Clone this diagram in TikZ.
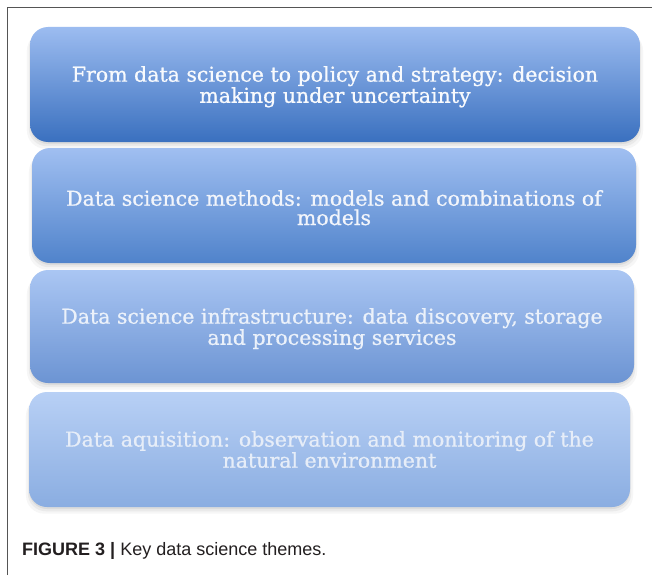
\documentclass[tikz,border=0pt]{standalone}
\usepackage{fontspec}
\setsansfont{Liberation Sans}
\newfontfamily\themefont{DejaVu Serif}[FakeBold=0.8]
\usetikzlibrary{shadows}

% layer colours: darkest layer on top, palest at the base
\definecolor{topA}{HTML}{9CBCF0}\definecolor{midA}{HTML}{6E9BDF}\definecolor{botA}{HTML}{3A70BF}
\definecolor{topB}{HTML}{A0BFF1}\definecolor{midB}{HTML}{7BA4E3}\definecolor{botB}{HTML}{5083CB}
\definecolor{topC}{HTML}{AAC6F3}\definecolor{midC}{HTML}{8DAFE7}\definecolor{botC}{HTML}{6C94D3}
\definecolor{topD}{HTML}{B8D0F5}\definecolor{midD}{HTML}{A4C0EE}\definecolor{botD}{HTML}{8AADE1}
\definecolor{textA}{HTML}{F8FAFD}
\definecolor{textB}{HTML}{F2F5FB}
\definecolor{textC}{HTML}{EBF1FA}
\definecolor{textD}{HTML}{E6EDF8}
\definecolor{framegray}{HTML}{555555}
\definecolor{captiongray}{HTML}{231F20}

% a taller first line pushes a two-line label slightly downwards
\newcommand{\lowerfirst}{\rule{0pt}{20pt}}

\tikzset{
  theme/.style={
    rectangle, rounded corners=18pt, inner sep=0pt,
    align=center,
    font=\themefont\fontsize{20.5}{19.3}\selectfont,
    general shadow={fill=black!60, opacity=0.10, shadow yshift=-2pt},
    general shadow={fill=black!60, opacity=0.08, shadow yshift=-4pt, shadow scale=1.004},
    general shadow={fill=black!60, opacity=0.06, shadow yshift=-6pt, shadow scale=1.01}
  },
  frameline/.style={draw=framegray, line width=1pt},
  captiontext/.style={anchor=base west, inner sep=0pt, text=captiongray,
    font=\sffamily\fontsize{18}{21}\selectfont}
}

\begin{document}
\begin{tikzpicture}[x=1pt,y=-1pt]
  \useasboundingbox (0,0) rectangle (652,575);
  \fill[white] (0,0) rectangle (652,575);

  % figure frame (top and left edges)
  \coordinate (frameBL) at (7,575);
  \coordinate (frameTL) at (7,8);
  \coordinate (frameTR) at (652,8);
  \draw[frameline] (frameBL) -- (frameTL) -- (frameTR);

  % the four stacked themes
  \node[theme, minimum width=610pt, minimum height=115pt,
        top color=topA, middle color=midA, bottom color=botA, text=textA]
    (policy) at (335,84.5)
    {\lowerfirst From data science to policy and strategy: decision\\making under uncertainty};

  \node[theme, minimum width=604pt, minimum height=115pt,
        top color=topB, middle color=midB, bottom color=botB, text=textB]
    (methods) at (334,205.5)
    {\lowerfirst Data science methods: models and combinations of\\models};

  \node[theme, minimum width=604pt, minimum height=113pt,
        top color=topC, middle color=midC, bottom color=botC, text=textC]
    (infra) at (332,326.5)
    {\lowerfirst Data science infrastructure: data discovery, storage\\and processing services};

  \node[theme, minimum width=601pt, minimum height=115pt,
        top color=topD, middle color=midD, bottom color=botD, text=textD]
    (acquisition) at (329.5,449.5)
    {Data aquisition: observation and monitoring of the\\natural environment};

  % caption
  \node[captiontext] (caption) at (22,555)
    {\textbf{FIGURE 3 |} Key data science themes.};
\end{tikzpicture}
\end{document}
